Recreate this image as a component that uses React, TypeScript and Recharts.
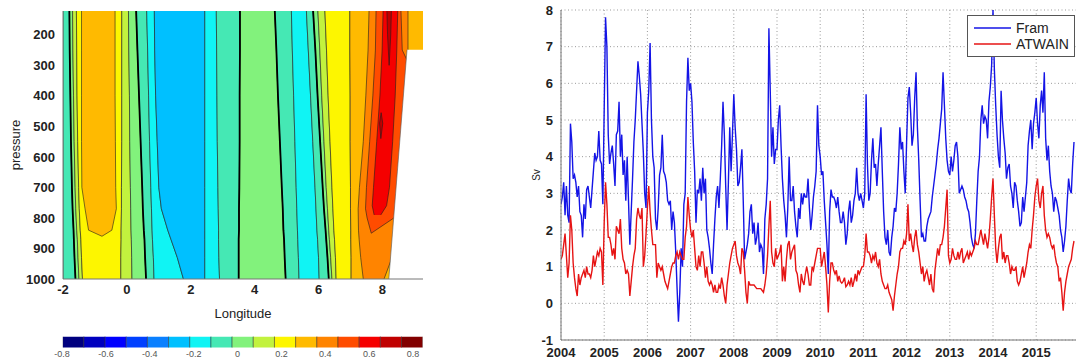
import React from 'react';
import {
  ComposedChart,
  LineChart,
  Area,
  Line,
  XAxis,
  YAxis,
  CartesianGrid,
  Legend,
} from 'recharts';

const FONT = '"Liberation Sans", Arial, Helvetica, sans-serif';

// ---------- left panel: contour field (longitude of each contour at each pressure level) ----------
const pLevels = [122, 250, 400, 550, 700, 770, 840, 870, 930, 1000];

const bA = [-1.8, -1.79, -1.77, -1.75, -1.72, -1.7, -1.67, -1.66, -1.64, -1.61]; // zero line
const bB = [-1.7, -1.69, -1.67, -1.65, -1.62, -1.6, -1.57, -1.55, -1.53, -1.5];
const bC = [-1.58, -1.57, -1.56, -1.54, -1.51, -1.49, -1.46, -1.44, -1.42, -1.39];
const bD = [-0.16, -0.16, -0.16, -0.16, -0.17, -0.17, -0.18, -0.18, -0.19, -0.19];
const bE = [0.05, 0.06, 0.08, 0.09, 0.11, 0.12, 0.13, 0.14, 0.15, 0.16];
const bF = [0.29, 0.33, 0.38, 0.43, 0.48, 0.5, 0.53, 0.55, 0.57, 0.6]; // zero line
const bG = [0.62, 0.65, 0.68, 0.71, 0.75, 0.77, 0.79, 0.8, 0.83, 0.85];
const bH = [0.86, 0.87, 0.9, 0.95, 1.0, 1.08, 1.28, 1.38, 1.58, 1.77];
const bI = [2.44, 2.44, 2.44, 2.44, 2.44, 2.44, 2.44, 2.44, 2.44, 2.44];
const bJ = [2.8, 2.81, 2.82, 2.83, 2.85, 2.86, 2.87, 2.87, 2.88, 2.9];
const bK = [3.54, 3.54, 3.53, 3.53, 3.52, 3.51, 3.51, 3.5, 3.5, 3.5]; // zero line
const bL = [4.63, 4.68, 4.73, 4.79, 4.85, 4.88, 4.9, 4.92, 4.94, 4.97]; // zero line
const bM = [5.15, 5.18, 5.22, 5.26, 5.3, 5.32, 5.34, 5.35, 5.37, 5.39];
const bN = [5.62, 5.68, 5.75, 5.82, 5.89, 5.92, 5.95, 5.97, 6.0, 6.02];
const bO = [5.83, 5.9, 5.97, 6.05, 6.13, 6.17, 6.22, 6.24, 6.28, 6.32]; // zero line
const bP = [5.98, 6.04, 6.1, 6.17, 6.24, 6.28, 6.32, 6.34, 6.38, 6.42];
const bQ = [6.2, 6.25, 6.3, 6.36, 6.42, 6.45, 6.48, 6.5, 6.53, 6.55];
const bR = [6.98, 6.98, 6.99, 6.99, 7.0, 7.0, 7.01, 7.01, 7.02, 7.02];
const bS = [7.58, 7.55, 7.48, 7.4, 7.28, 7.24, 7.25, 7.27, 7.32, 7.4];
const bOrangeR = [8.8, 8.8, 9.3, 9.3, 9.3, 9.3, 9.3, 9.3, 8.3, 8.05];
const edgeL = [-2, -2, -2, -2, -2, -2, -2, -2, -2, -2];
const edgeR = [9.3, 9.3, 9.3, 9.3, 9.3, 9.3, 9.3, 9.3, 9.3, 9.3];

// closed regions
const oyP = [122, 250, 400, 550, 700, 770, 840, 860];
const oyLo = [-1.42, -1.42, -1.42, -1.42, -1.41, -1.31, -1.2, -0.78];
const oyHi = [-0.37, -0.37, -0.37, -0.36, -0.35, -0.33, -0.47, -0.78];

const doP = [122, 250, 400, 550, 700, 770, 800, 850];
const doLo = [7.8, 7.78, 7.7, 7.6, 7.5, 7.47, 7.52, 7.65];
const doHi = [8.58, 8.62, 9.3, 9.3, 9.3, 9.3, 8.36, 7.65];

const redP = [122, 250, 400, 550, 700, 760, 790];
const redLo = [8.02, 7.99, 7.92, 7.82, 7.72, 7.68, 7.74];
const redHi = [8.48, 8.45, 8.4, 8.32, 8.22, 8.13, 7.95];

const dr1P = [122, 200, 300];
const dr1Lo = [8.14, 8.16, 8.21];
const dr1Hi = [8.28, 8.26, 8.21];

const dr2P = [455, 490, 540];
const dr2Lo = [7.96, 7.91, 7.95];
const dr2Hi = [7.96, 8.01, 7.95];

const landP = [249, 1000];
const landLo = [8.77, 8.2];
const landHi = [9.3, 9.3];

const lonTicks = [-2, 0, 2, 4, 6, 8];
const pressureTicks = [200, 300, 400, 500, 600, 700, 800, 900, 1000];

// ---------- colour bar ----------
const cbLevels = [-0.8, -0.7, -0.6, -0.5, -0.4, -0.3, -0.2, -0.1, 0, 0.1, 0.2, 0.3, 0.4, 0.5, 0.6, 0.7, 0.8, 0.9];
const cbColors = [
  '#00007f', '#0000bf', '#0000ff', '#0040ff', '#0a80ff', '#00c0ff', '#10f4f4', '#45e8b4', '#82f27c',
  '#c2f23e', '#fdf600', '#ffba00', '#ff8400', '#ff4c00', '#f50000', '#c00000', '#820000',
];
const cbTicks = [-0.8, -0.6, -0.4, -0.2, 0, 0.2, 0.4, 0.6, 0.8];

// ---------- right panel: transport time series, 32 samples per year from 2004 ----------
const framValues = [
  // 2004
  2.7, 2.9, 3.3, 2.4, 3.2, 2.4, 2.2, 4.9, 4.4, 3.4, 3.5, 3.3, 2.9, 3.2, 2.5, 2.4,
  1.8, 2.7, 2.3, 3.1, 3.2, 2.9, 2.6, 3.1, 3.6, 4.1, 3.9, 4.0, 4.7, 3.9, 3.8, 2.7,
  // 2005
  5.3, 7.8, 7.0, 4.6, 3.8, 4.1, 4.3, 3.8, 3.2, 4.6, 4.7, 5.5, 4.0, 4.6, 3.5, 3.9,
  2.8, 4.0, 2.8, 1.6, 2.5, 3.4, 4.4, 5.0, 5.8, 6.6, 6.2, 5.7, 4.9, 4.1, 3.0, 2.6,
  // 2006
  5.2, 5.8, 7.1, 5.0, 4.0, 3.7, 2.3, 2.0, 2.6, 3.5, 3.7, 4.6, 3.6, 3.5, 3.3, 2.8,
  2.7, 2.8, 2.0, 2.5, 2.2, 1.4, 0.4, -0.5, 0.3, 1.5, 1.0, 2.7, 3.0, 5.5, 6.7, 5.8,
  // 2007
  6.0, 5.5, 4.4, 3.6, 2.2, 3.1, 3.0, 3.4, 2.8, 3.7, 3.0, 3.4, 2.0, 1.8, 1.5, 1.1,
  0.8, 1.6, 2.3, 2.9, 3.2, 2.6, 3.4, 4.3, 5.5, 4.6, 3.2, 2.0, 3.3, 4.8, 3.6, 4.6,
  // 2008
  5.7, 4.8, 4.2, 3.2, 3.3, 3.7, 4.2, 2.8, 1.2, 1.4, 1.6, 1.9, 2.5, 2.7, 1.9, 2.2,
  1.6, 1.8, 2.2, 1.4, 1.6, 1.5, 0.8, 2.3, 2.7, 3.4, 7.5, 5.8, 4.0, 4.8, 3.8, 4.2,
  // 2009
  4.2, 5.0, 5.4, 4.3, 3.4, 2.8, 2.4, 1.8, 2.6, 4.0, 2.8, 2.8, 3.2, 2.5, 2.1, 1.8,
  2.6, 2.3, 3.0, 2.7, 3.0, 2.9, 2.9, 3.4, 2.6, 2.0, 2.4, 2.9, 3.2, 3.6, 5.4, 4.3,
  // 2010
  4.0, 3.5, 3.6, 2.8, 2.2, 1.6, 0.8, 2.5, 3.1, 2.9, 2.9, 2.8, 2.6, 2.9, 2.5, 2.2,
  2.2, 2.5, 2.2, 1.6, 1.9, 2.5, 2.8, 2.2, 2.4, 2.8, 3.0, 3.7, 3.0, 2.8, 3.0, 2.8,
  // 2011
  2.6, 3.0, 5.7, 3.8, 2.8, 3.0, 3.9, 4.5, 3.7, 3.8, 3.2, 3.8, 4.3, 4.8, 3.6, 2.5,
  1.8, 1.6, 2.0, 1.4, 1.3, 1.8, 2.1, 2.6, 2.5, 3.0, 3.8, 4.8, 4.2, 4.4, 3.6, 3.0,
  // 2012
  4.4, 5.6, 5.9, 5.2, 4.3, 4.6, 5.6, 6.3, 4.8, 3.9, 2.8, 1.8, 1.9, 1.7, 1.7, 2.1,
  2.3, 2.4, 2.5, 2.9, 3.2, 3.5, 3.8, 4.2, 4.5, 4.9, 5.3, 6.3, 5.4, 4.5, 3.9, 3.6,
  // 2013
  3.5, 4.0, 3.6, 3.9, 4.3, 4.4, 4.0, 3.0, 3.1, 3.2, 3.1, 2.9, 2.8, 2.6, 2.5, 2.2,
  1.8, 1.6, 1.5, 1.9, 2.8, 3.6, 4.0, 5.0, 5.4, 4.9, 5.1, 5.0, 4.5, 5.5, 5.9, 6.5,
  // 2014
  8.0, 6.4, 5.4, 4.6, 4.0, 3.7, 5.8, 5.0, 4.5, 4.1, 3.4, 3.7, 3.8, 3.2, 3.0, 2.6,
  3.3, 3.2, 2.8, 2.5, 2.1, 2.2, 2.9, 2.5, 2.9, 3.3, 4.3, 4.7, 5.0, 4.2, 4.9, 5.2,
  // 2015
  5.6, 4.9, 4.5, 5.4, 5.8, 5.2, 6.3, 4.5, 3.9, 4.3, 3.6, 3.2, 3.0, 2.5, 2.9, 2.8,
  2.6, 2.4, 2.0, 1.8, 1.4, 1.7, 2.1, 2.8, 3.4, 3.1, 3.0, 3.8, 4.4,
];
const atwainValues = [
  // 2004
  1.2, 1.3, 1.6, 1.9, 1.3, 0.7, 1.1, 2.4, 2.0, 1.1, 0.7, 0.4, 0.2, 0.8, 0.5, 0.7,
  0.8, 0.9, 0.7, 1.0, 0.8, 0.8, 0.7, 0.9, 1.3, 1.0, 1.2, 1.4, 1.3, 1.5, 1.4, 0.5,
  // 2005
  2.2, 3.3, 2.7, 1.8, 1.8, 1.6, 1.3, 1.5, 1.2, 2.1, 2.0, 1.9, 2.3, 1.5, 1.2, 1.1,
  0.8, 0.9, 0.8, 0.2, 0.6, 1.0, 1.3, 1.5, 2.3, 2.6, 2.4, 2.3, 2.6, 1.0, 1.3, 1.9,
  // 2006
  2.6, 3.2, 2.5, 2.0, 1.6, 1.6, 1.6, 0.7, 1.1, 1.0, 0.9, 1.0, 0.8, 0.6, 0.5, 0.4,
  0.6, 0.8, 1.0, 1.1, 1.1, 1.3, 1.4, 1.2, 1.4, 1.3, 1.2, 1.2, 1.8, 2.1, 2.9, 2.4,
  // 2007
  2.0, 1.8, 2.0, 1.5, 1.0, 0.9, 1.3, 1.0, 1.4, 1.4, 1.1, 0.7, 1.0, 0.6, 0.5, 0.6,
  0.5, 0.3, 0.5, 0.3, 0.3, 0.5, 0.4, 0.7, 0.5, 0.2, 0.0, 0.5, 0.8, 1.1, 1.3, 1.5,
  // 2008
  1.6, 1.7, 1.3, 1.1, 1.0, 0.8, 1.5, 1.4, 0.9, 0.3, 0.0, 0.6, 0.5, 0.5, 0.5, 0.5,
  0.45, 0.4, 0.4, 0.4, 0.4, 0.35, 0.3, 0.5, 0.8, 1.3, 2.1, 2.8, 1.4, 1.1, 1.0, 1.5,
  // 2009
  1.2, 1.3, 1.4, 1.6, 0.6, 1.0, 0.6, 1.2, 1.6, 1.7, 1.2, 1.4, 1.5, 1.6, 0.9, 0.8,
  0.5, 0.3, 0.8, 0.6, 0.5, 0.8, 1.0, 0.8, 0.5, 0.5, 1.0, 0.9, 1.1, 1.3, 1.5, 1.5,
  // 2010
  1.5, 1.0, 1.2, 1.4, 1.0, 0.5, -0.25, 0.6, 1.1, 1.1, 0.9, 0.8, 0.9, 0.6, 0.75, 0.6,
  0.55, 0.6, 0.7, 0.45, 0.5, 0.6, 0.5, 0.7, 0.45, 0.6, 0.8, 0.6, 0.9, 0.8, 0.9, 1.0,
  // 2011
  1.0, 1.3, 1.9, 1.4, 1.4, 1.3, 1.1, 1.3, 1.2, 1.4, 1.1, 1.0, 1.2, 0.8, 0.6, 0.5,
  0.4, 0.4, 0.5, 0.3, 0.2, 0.1, -0.2, 0.2, 0.5, 0.8, 1.0, 1.4, 1.5, 1.5, 1.7, 1.6,
  // 2012
  1.9, 2.7, 1.7, 1.9, 1.6, 1.4, 1.8, 2.0, 1.6, 1.4, 1.1, 0.8, 1.0, 0.6, 0.8, 0.9,
  0.7, 0.5, 0.8, 0.4, 0.3, 0.9, 1.2, 1.5, 1.3, 1.6, 1.6, 1.8, 2.1, 2.6, 3.1, 1.3,
  // 2013
  1.1, 1.2, 1.5, 1.3, 1.2, 1.2, 1.4, 1.2, 1.4, 1.5, 1.1, 1.2, 1.3, 1.4, 1.2, 1.4,
  1.3, 1.4, 1.5, 1.7, 1.6, 1.6, 1.8, 2.0, 1.8, 1.6, 1.9, 1.7, 1.5, 1.8, 2.3, 2.9,
  // 2014
  3.4, 2.4, 1.5, 1.1, 1.5, 1.8, 1.9, 1.2, 1.4, 1.1, 1.3, 1.3, 1.1, 0.8, 1.0, 0.9,
  0.9, 1.0, 0.6, 0.5, 0.6, 0.8, 1.0, 0.7, 0.9, 1.1, 1.4, 1.6, 1.5, 2.0, 2.4, 2.9,
  // 2015
  3.2, 3.4, 2.8, 2.6, 3.0, 3.2, 2.4, 2.0, 1.8, 1.9, 1.8, 1.6, 1.5, 1.6, 1.3, 1.1,
  1.0, 0.6, 0.7, 0.3, -0.2, 0.3, 0.6, 0.8, 1.0, 1.1, 1.2, 1.5, 1.7,
];
const seriesNames = ['Fram', 'ATWAIN'];
const yearTicks = [2004, 2005, 2006, 2007, 2008, 2009, 2010, 2011, 2012, 2013, 2014, 2015];
const svTicks = [-1, 0, 1, 2, 3, 4, 5, 6, 7, 8];

// ---------- built tables ----------
const rangeRows = (ps: number[], lo: number[], hi: number[]) =>
  ps.map((p, i) => ({ p, lo: lo[i], hi: hi[i] }));
const bandRows = (lo: number[], hi: number[]) => rangeRows(pLevels, lo, hi);
const lineRows = (lon: number[]) => pLevels.map((p, i) => ({ p, lon: lon[i] }));

const [, , , , , SK, CY, AQ, LG, YG, YE, OY, OR, DO, RD, DR] = cbColors;

const contourBands = [
  { fill: AQ, data: bandRows(edgeL, bA) },
  { fill: LG, data: bandRows(bA, bB) },
  { fill: YG, data: bandRows(bB, bC) },
  { fill: YE, data: bandRows(bC, bD) },
  { fill: OY, data: rangeRows(oyP, oyLo, oyHi) },
  { fill: YG, data: bandRows(bD, bE) },
  { fill: LG, data: bandRows(bE, bF) },
  { fill: AQ, data: bandRows(bF, bG) },
  { fill: CY, data: bandRows(bG, bH) },
  { fill: SK, data: bandRows(bH, bI) },
  { fill: CY, data: bandRows(bI, bJ) },
  { fill: AQ, data: bandRows(bJ, bK) },
  { fill: LG, data: bandRows(bK, bL) },
  { fill: AQ, data: bandRows(bL, bM) },
  { fill: CY, data: bandRows(bM, bN) },
  { fill: AQ, data: bandRows(bN, bO) },
  { fill: LG, data: bandRows(bO, bP) },
  { fill: YG, data: bandRows(bP, bQ) },
  { fill: YE, data: bandRows(bQ, bR) },
  { fill: OY, data: bandRows(bR, edgeR) },
  { fill: OR, data: bandRows(bS, bOrangeR) },
  { fill: DO, data: rangeRows(doP, doLo, doHi) },
  { fill: RD, data: rangeRows(redP, redLo, redHi) },
  { fill: DR, data: rangeRows(dr1P, dr1Lo, dr1Hi) },
  { fill: DR, data: rangeRows(dr2P, dr2Lo, dr2Hi) },
];
const zeroLines = [bA, bF, bK, bL, bO].map(lineRows);
const landRows = rangeRows(landP, landLo, landHi);

const cbCells = cbColors.map((color, i) => ({
  color,
  data: [
    { y: 0, lo: cbLevels[i], hi: cbLevels[i + 1] },
    { y: 1, lo: cbLevels[i], hi: cbLevels[i + 1] },
  ],
}));

const seriesRows = framValues.map((fram, i) => ({ t: 2004 + i / 32, fram, atwain: atwainValues[i] }));

const tickStyle = { fontSize: 13, fontWeight: 'bold' as const, fill: '#222', fontFamily: FONT };
const rangeKey = (d: { lo: number; hi: number }) => [d.lo, d.hi];

const LegendBox = ({ payload }: any) => {
  const items = [...(payload || [])].sort(
    (a: any, b: any) => seriesNames.indexOf(a.value) - seriesNames.indexOf(b.value),
  );
  return (
    <div
      style={{
        width: 108,
        height: 42,
        boxSizing: 'border-box',
        border: '1px solid #555',
        background: '#fff',
        padding: '4px 0 0 6px',
        fontFamily: FONT,
        fontSize: 14,
        color: '#222',
      }}
    >
      {items.map((p: any) => (
        <div key={p.value} style={{ display: 'flex', alignItems: 'center', height: 16 }}>
          <svg width={38} height={10}>
            <line x1={0} y1={5} x2={37} y2={5} stroke={p.color} strokeWidth={1.5} />
          </svg>
          <span style={{ marginLeft: 4 }}>{p.value}</span>
        </div>
      ))}
    </div>
  );
};

export default function App() {
  return (
    <div
      style={{
        position: 'absolute',
        left: 0,
        top: 0,
        width: 1076,
        height: 362,
        overflow: 'hidden',
        background: '#fff',
        fontFamily: FONT,
      }}
    >
      {/* contour plot */}
      <div style={{ position: 'absolute', left: 0, top: 0 }}>
        <ComposedChart layout="vertical" width={430} height={322} margin={{ top: 11, right: 7, bottom: 1, left: 0 }}>
          <XAxis
            type="number"
            domain={[-2, 9.27]}
            ticks={lonTicks}
            allowDataOverflow
            height={42}
            tickLine={false}
            tickMargin={0}
            axisLine={{ stroke: '#777' }}
            tick={tickStyle}
            label={{ value: 'Longitude', position: 'insideBottom', offset: 3, style: { fontSize: 13, fill: '#222', fontFamily: FONT } }}
          />
          <XAxis xAxisId="top" orientation="top" type="number" domain={[-2, 9.27]} height={0} tick={false} tickLine={false} axisLine={{ stroke: '#777' }} />
          <YAxis
            type="number"
            dataKey="p"
            domain={[122, 1000]}
            ticks={pressureTicks}
            allowDataOverflow
            width={63}
            tickLine={false}
            axisLine={{ stroke: '#777' }}
            tick={tickStyle}
            label={{ value: 'pressure', angle: -90, position: 'insideLeft', offset: 15, style: { textAnchor: 'middle', fontSize: 13, fill: '#222', fontFamily: FONT } }}
          />
          <YAxis yAxisId="right" orientation="right" type="number" domain={[122, 1000]} width={0} tick={false} tickLine={false} axisLine={{ stroke: '#777' }} />
          {contourBands.map((b, i) => (
            <Area
              key={`band-${i}`}
              data={b.data}
              dataKey={rangeKey}
              type="linear"
              fill={b.fill}
              fillOpacity={1}
              stroke="#1e1e1e"
              strokeWidth={0.6}
              dot={false}
              activeDot={false}
              isAnimationActive={false}
            />
          ))}
          {zeroLines.map((rows, i) => (
            <Line
              key={`zero-${i}`}
              data={rows}
              dataKey="lon"
              type="linear"
              stroke="#000"
              strokeWidth={1.8}
              dot={false}
              activeDot={false}
              isAnimationActive={false}
            />
          ))}
          <Area
            data={landRows}
            dataKey={rangeKey}
            type="linear"
            fill="#fff"
            fillOpacity={1}
            stroke="#555"
            strokeWidth={0.6}
            dot={false}
            activeDot={false}
            isAnimationActive={false}
          />
        </ComposedChart>
      </div>

      {/* colour bar */}
      <div style={{ position: 'absolute', left: 0, top: 330 }}>
        <ComposedChart layout="vertical" width={430} height={32} margin={{ top: 6.7, right: 7.3, bottom: 0, left: 62.7 }}>
          <XAxis
            type="number"
            domain={[-0.797, 0.844]}
            ticks={cbTicks}
            allowDataOverflow
            height={14.6}
            tickLine={false}
            axisLine={false}
            tickSize={0}
            tickMargin={3}
            tickFormatter={(v: number) => String(Math.round(v * 10) / 10)}
            tick={{ fontSize: 9, fill: '#555', fontFamily: FONT }}
          />
          <XAxis xAxisId="cells" type="number" domain={[-0.8, 0.9]} allowDataOverflow hide />
          <YAxis type="number" dataKey="y" domain={[0, 1]} hide />
          {cbCells.map((c, i) => (
            <Area
              key={`cb-${i}`}
              xAxisId="cells"
              data={c.data}
              dataKey={rangeKey}
              type="linear"
              fill={c.color}
              fillOpacity={1}
              stroke="#333"
              strokeWidth={0.5}
              dot={false}
              activeDot={false}
              isAnimationActive={false}
            />
          ))}
        </ComposedChart>
      </div>

      {/* time series */}
      <div style={{ position: 'absolute', left: 520, top: 0 }}>
        <LineChart width={570} height={362} data={seriesRows} margin={{ top: 10, right: 10.6, bottom: 0, left: 0 }}>
          <CartesianGrid stroke="#9a9a9a" strokeDasharray="1 2.5" />
          <XAxis
            dataKey="t"
            type="number"
            domain={[2004, 2016]}
            ticks={yearTicks}
            allowDataOverflow
            height={22}
            tickLine={false}
            axisLine={{ stroke: '#777' }}
            tick={tickStyle}
          />
          <XAxis xAxisId="top" orientation="top" type="number" domain={[2004, 2016]} height={0} tick={false} tickLine={false} axisLine={{ stroke: '#777' }} />
          <YAxis
            type="number"
            domain={[-1, 8]}
            ticks={svTicks}
            allowDataOverflow
            width={41}
            tickLine={false}
            axisLine={{ stroke: '#777' }}
            tick={tickStyle}
            label={{ value: 'Sv', angle: -90, position: 'insideLeft', offset: 16, style: { textAnchor: 'middle', fontSize: 10, fill: '#222', fontFamily: FONT } }}
          />
          <Legend
            layout="horizontal"
            verticalAlign="middle"
            align="center"
            content={<LegendBox />}
            wrapperStyle={{ left: 447, top: 15, width: 'auto', height: 'auto' }}
          />
          <Line
            dataKey="fram"
            name="Fram"
            type="linear"
            stroke="#1414e6"
            strokeWidth={1.4}
            dot={false}
            activeDot={false}
            isAnimationActive={false}
          />
          <Line
            dataKey="atwain"
            name="ATWAIN"
            type="linear"
            stroke="#e61414"
            strokeWidth={1.4}
            dot={false}
            activeDot={false}
            isAnimationActive={false}
          />
        </LineChart>
      </div>
    </div>
  );
}
